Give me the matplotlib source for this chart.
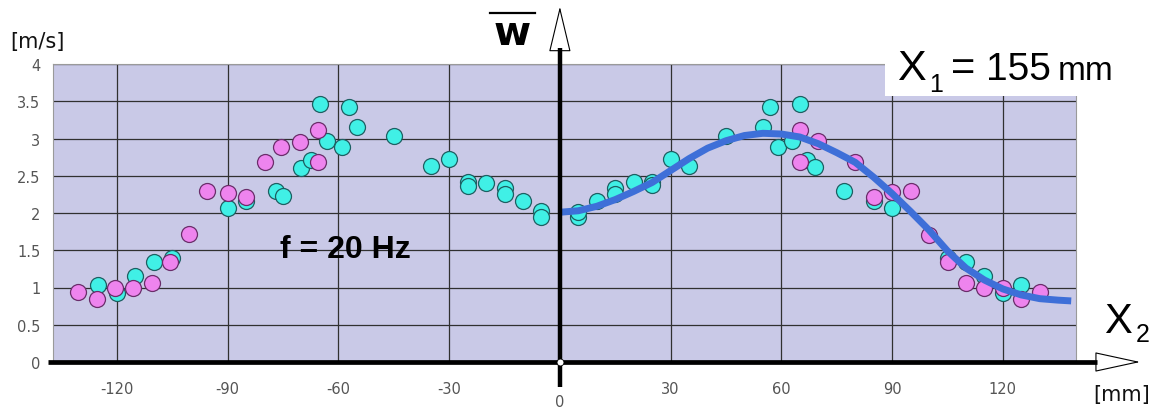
import matplotlib
matplotlib.use("Agg")
import matplotlib.pyplot as plt
from matplotlib.patches import Rectangle
from matplotlib.lines import Line2D

# measured points, left half (x < 0)
cyan_left_x = [-125, -120, -115, -110, -105, -90, -85, -77, -75, -70, -67.5, -65, -63, -59, -57, -55,
               -45, -35, -30, -25, -25, -20, -15, -15, -10, -5, -5]
cyan_left_y = [1.03, 0.92, 1.16, 1.34, 1.40, 2.07, 2.16, 2.29, 2.23, 2.61, 2.71, 3.46, 2.96, 2.89, 3.42, 3.15,
               3.03, 2.63, 2.72, 2.42, 2.36, 2.40, 2.34, 2.25, 2.16, 2.03, 1.95]
pink_left_x = [-130.5, -125.5, -120.5, -115.5, -110.5, -105.5, -100.5, -95.5, -90, -85, -80, -75.5,
               -70.5, -65.5, -65.5]
pink_left_y = [0.94, 0.84, 0.99, 1.00, 1.06, 1.34, 1.72, 2.29, 2.27, 2.22, 2.68, 2.89,
               2.95, 3.11, 2.68]

# measured points, right half (x > 0)
cyan_right_x = [5, 5, 10, 15, 15, 20, 25, 25, 30, 35, 45, 55, 57, 59, 63, 65, 67, 69, 77,
                85, 90, 105, 110, 115, 120, 125]
cyan_right_y = [1.95, 2.02, 2.16, 2.34, 2.26, 2.41, 2.42, 2.37, 2.72, 2.63, 3.04, 3.15, 3.42, 2.89, 2.96, 3.46,
                2.71, 2.62, 2.30, 2.16, 2.07, 1.40, 1.34, 1.16, 0.92, 1.03]
pink_right_x = [65, 65, 70, 80, 85, 90, 95, 100, 105, 110, 115, 120, 125, 130]
pink_right_y = [3.12, 2.68, 2.96, 2.69, 2.21, 2.28, 2.30, 1.71, 1.34, 1.06, 1.00, 1.00, 0.84, 0.94]

# fitted profile
fit_x = [0, 5, 10, 15, 20, 25, 30, 35, 40, 45, 50, 55, 60, 65, 70, 75, 80, 85, 90, 95,
         100, 105, 110, 115, 120, 125, 130, 135, 138.5]
fit_y = [2.01, 2.03, 2.09, 2.18, 2.29, 2.41, 2.57, 2.73, 2.87, 2.97, 3.04, 3.07, 3.06, 3.02, 2.93, 2.81, 2.68,
         2.48, 2.26, 2.02, 1.77, 1.49, 1.26, 1.10, 0.98, 0.90, 0.85, 0.83, 0.82]

xticks = [-120, -90, -60, -30, 0, 30, 60, 90, 120]
yticks = [0, 0.5, 1, 1.5, 2, 2.5, 3, 3.5, 4]

W, H = 1155, 414
fig = plt.figure(figsize=(W / 100, H / 100), dpi=100)
ax = fig.add_axes([53 / W, 51 / H, 1023 / W, 298 / H])
ax.set_facecolor("#c9c9e7")
ax.set_xlim(-137.3, 139.8)
ax.set_ylim(0, 4)

ax.set_xticks(xticks)
ax.set_xticklabels([str(t) if t != 0 else "" for t in xticks])
ax.set_yticks(yticks)
ax.set_yticklabels(["0", "0.5", "1", "1.5", "2", "2.5", "3", "3.5", "4"])
ax.tick_params(axis="x", length=0, pad=14, labelsize=10.5, labelcolor="#555555")
ax.tick_params(axis="y", length=0, pad=9, labelsize=10.5, labelcolor="#555555")
ax.grid(True, color="#303030", lw=0.9)
ax.set_axisbelow(True)
for side in ["top", "left", "right"]:
    ax.spines[side].set_color("#9a9a9a")
    ax.spines[side].set_linewidth(0.8)
ax.spines["bottom"].set_visible(False)

mk = dict(ls="none", marker="o", ms=11.5, mew=0.9)
ax.plot(cyan_left_x, cyan_left_y, mfc="#40f0e6", mec="#1d5f62", zorder=3, **mk)
ax.plot(cyan_right_x, cyan_right_y, mfc="#40f0e6", mec="#1d5f62", zorder=3, **mk)
ax.plot(pink_left_x, pink_left_y, mfc="#ee84ee", mec="#6a2d6a", zorder=4, **mk)
ax.plot(pink_right_x, pink_right_y, mfc="#ee84ee", mec="#6a2d6a", zorder=4, **mk)
ax.plot(fit_x, fit_y, color="#3e6fd8", lw=5, solid_capstyle="butt", zorder=5)

# axes with hollow arrow heads
ax.plot([-138.6, 145.5], [0, 0], color="black", lw=3.4, clip_on=False, zorder=6,
        solid_capstyle="butt")
ax.annotate("", xy=(157.2, 0), xytext=(145.5, 0), annotation_clip=False,
            arrowprops=dict(arrowstyle="-|>,head_length=3.0,head_width=0.65",
                            fc="white", ec="black", lw=0.8, shrinkA=0, shrinkB=0))
ax.plot([0, 0], [-0.33, 4.21], color="black", lw=3.2, clip_on=False, zorder=6,
        solid_capstyle="butt")
ax.annotate("", xy=(0, 4.77), xytext=(0, 4.21), annotation_clip=False,
            arrowprops=dict(arrowstyle="-|>,head_length=3.0,head_width=0.72",
                            fc="white", ec="black", lw=0.8, shrinkA=0, shrinkB=0))
ax.plot([0], [0], marker="o", ms=5, mfc="white", mec="black", mew=0.6, clip_on=False, zorder=7)
ax.text(0, -0.53, "0", ha="center", va="center", fontsize=10.5, color="#555555")


def fx(px):
    return px / W


def fy(py):
    return 1 - py / H


fig.add_artist(Rectangle((fx(885), fy(97)), 242 / W, 57 / H, transform=fig.transFigure,
                         fc="white", ec="none", zorder=2))

fig.text(fx(10), fy(42), "[m/s]", ha="left", va="center", fontsize=15, color="#111111")
fig.text(fx(1093), fy(395), "[mm]", ha="left", va="center", fontsize=15, color="#111111")

fig.text(fx(512), fy(45), "w", ha="center", va="baseline", fontsize=29, fontweight="bold")
fig.add_artist(Line2D([fx(490), fx(535)], [fy(14), fy(14)], color="black", lw=1.6,
                      transform=fig.transFigure))

fig.text(fx(280), fy(258), "f = 20 Hz", ha="left", va="baseline", fontsize=23,
         family="Liberation Sans", fontweight="bold", zorder=8)

fig.text(fx(897), fy(80), "X", ha="left", va="baseline", fontsize=31, family="Liberation Sans", zorder=3)
fig.text(fx(929), fy(92), "1", ha="left", va="baseline", fontsize=18, family="Liberation Sans", zorder=3)
fig.text(fx(951), fy(80), "=", ha="left", va="baseline", fontsize=30, family="Liberation Sans", zorder=3)
fig.text(fx(986), fy(80), "155", ha="left", va="baseline", fontsize=28, family="Liberation Sans",
         zorder=3)
fig.text(fx(1058), fy(80), "mm", ha="left", va="baseline", fontsize=24, family="Liberation Sans",
         zorder=3)

fig.text(fx(1104), fy(333), "X", ha="left", va="baseline", fontsize=30, family="Liberation Sans")
fig.text(fx(1136), fy(342), "2", ha="left", va="baseline", fontsize=18, family="Liberation Sans")

fig.savefig("out.png", dpi=100)
